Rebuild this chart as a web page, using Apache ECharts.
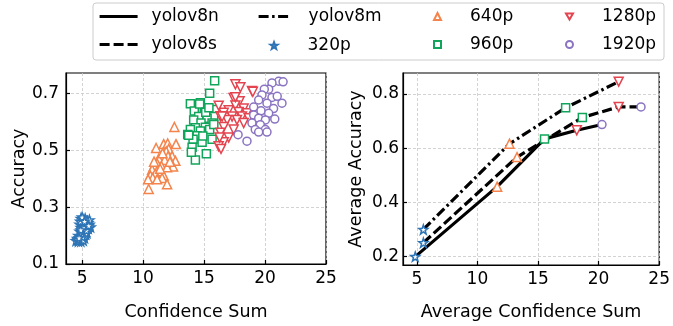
<!DOCTYPE html>
<html>
<head>
<meta charset="utf-8">
<script src="https://cdn.jsdelivr.net/npm/echarts@6/dist/echarts.min.js"></script>
<style>
  html, body { margin: 0; padding: 0; background: #fff; }
  #chart { width: 673px; height: 326px; }
</style>
</head>
<body>
<div id="chart"></div>
<script>
// left panel: per-image confidence sum vs accuracy
const pts320 = [
  [4.9,0.26],[5.1,0.255],[5.3,0.25],[5.5,0.245],[5.6,0.24],[5.0,0.25],[4.8,0.24],[5.2,0.24],
  [5.4,0.235],[5.7,0.23],[5.0,0.235],[4.9,0.228],[5.3,0.228],[5.5,0.225],[5.1,0.22],[4.8,0.215],
  [5.2,0.215],[5.4,0.21],[5.0,0.205],[4.7,0.2],[4.9,0.198],[5.1,0.2],[5.3,0.205],[4.6,0.19],
  [4.8,0.188],[5.0,0.19],[5.2,0.192],[4.5,0.182],[4.7,0.18],[4.9,0.18],[5.1,0.183],[5.05,0.245],
  [5.25,0.26],[4.95,0.212],[5.15,0.23],[5.45,0.25],[5.35,0.218],[4.85,0.25],[5.6,0.255],[4.65,0.185],
  [5.0,0.265],[5.2,0.25],[4.9,0.22],[5.05,0.195],[4.75,0.192],[5.55,0.235]
];
const pts640 = [
  [12.57,0.582],[11.07,0.508],[11.69,0.522],[12.02,0.524],[12.7,0.522],[12.1,0.505],[11.9,0.496],
  [12.38,0.479],[12.05,0.479],[11.28,0.471],[12.65,0.463],[11.77,0.466],[11.15,0.454],[11.5,0.445],
  [12.46,0.443],[10.87,0.443],[11.97,0.44],[10.74,0.432],[11.28,0.426],[11.0,0.418],[11.69,0.411],
  [10.6,0.411],[10.79,0.403],[11.56,0.403],[10.41,0.398],[11.15,0.398],[11.97,0.381],[10.46,0.364],
  [11.6,0.49],[12.2,0.46],[10.9,0.46],[11.4,0.435]
];
const pts960 = [
  [15.87,0.745],[15.46,0.701],[13.88,0.664],[14.7,0.667],[15.98,0.644],[14.2,0.638],[15.02,0.634],
  [14.56,0.619],[15.79,0.619],[14.15,0.607],[15.25,0.613],[14.75,0.596],[15.66,0.596],[14.29,0.579],
  [15.11,0.581],[13.88,0.573],[14.7,0.568],[15.46,0.573],[13.66,0.556],[14.43,0.551],[15.66,0.539],
  [14.1,0.539],[14.84,0.528],[14.02,0.511],[15.19,0.488],[14.29,0.466],[14.64,0.663],[15.14,0.634],
  [15.8,0.591],[13.96,0.493],[13.74,0.553],[15.4,0.65],[14.9,0.55]
];
const pts1280 = [
  [17.57,0.732],[17.98,0.722],[18.93,0.709],[17.43,0.684],[17.92,0.673],[17.57,0.658],[18.25,0.647],
  [17.02,0.641],[16.61,0.632],[17.84,0.635],[18.52,0.63],[16.34,0.62],[17.3,0.619],[18.11,0.619],
  [16.89,0.607],[17.7,0.607],[18.66,0.613],[18.25,0.596],[16.61,0.582],[17.43,0.573],[16.34,0.562],
  [17.02,0.545],[16.61,0.528],[16.2,0.514],[16.48,0.619],[16.28,0.545],[16.39,0.505],[16.2,0.657],
  [17.57,0.687],[19.0,0.706]
];
const pts1920 = [
  [21.12,0.743],[21.48,0.741],[20.57,0.737],[20.3,0.715],[19.94,0.715],[21.39,0.666],[19.75,0.695],
  [20.57,0.686],[19.48,0.677],[20.16,0.666],[20.7,0.647],[19.07,0.652],[19.67,0.639],[20.3,0.63],
  [19.07,0.624],[19.48,0.613],[20.03,0.607],[18.93,0.596],[19.61,0.59],[20.03,0.573],[19.2,0.573],
  [19.48,0.564],[20.16,0.564],[18.52,0.532],[17.79,0.555],[21.0,0.69],[20.8,0.61]
];

// right panel: averages per model
const modelNames = ['yolov8n', 'yolov8s', 'yolov8m'];
const v8nX = [4.87, 11.63, 15.54, 18.2, 20.28];
const v8nY = [0.2, 0.458, 0.634, 0.666, 0.687];
const v8sX = [5.54, 13.27, 18.66, 21.66, 23.5];
const v8sY = [0.251, 0.567, 0.713, 0.752, 0.752];
const v8mX = [5.54, 12.65, 17.28, 21.66];
const v8mY = [0.3, 0.616, 0.749, 0.845];

const resNames = ['320p', '640p', '960p', '1280p', '1920p'];
const xTicks = [5, 10, 15, 20, 25];
const yTicksLeft = [0.1, 0.3, 0.5, 0.7];
const yTicksRight = [0.2, 0.4, 0.6, 0.8];

const resColors = ['#2e75b6', '#f4844c', '#10a55a', '#e3444f', '#8a74c2'];
const star = 'path://M0,-10L2.35,-3.24L9.51,-3.09L3.8,1.24L5.88,8.09L0,4L-5.88,8.09L-3.8,1.24L-9.51,-3.09L-2.35,-3.24Z';
const downTri = 'path://M-5,-4.3L5,-4.3L0,4.3Z';
const resSymbols = [star, 'triangle', 'rect', downTri, 'circle'];
const resSizes = [9, 9, 8, 9, 8];

const chart = echarts.init(document.getElementById('chart'), null, { renderer: 'canvas' });
const font = 'DejaVu Sans';

function pairs(xs, ys) {
  return xs.map((x, i) => [x, ys[i]]);
}

const lineData = [pairs(v8nX, v8nY), pairs(v8sX, v8sY), pairs(v8mX, v8mY)];
const lineTypes = ['solid', [10, 4], [10, 3.5, 2.5, 3.5]];

const leftPts = [pts320, pts640, pts960, pts1280, pts1920];
const rightPts = resNames.map((_, r) => lineData.filter((d) => d[r]).map((d) => d[r]));

const series = [];
modelNames.forEach((name, i) => {
  series.push({
    name: name,
    type: 'line',
    xAxisIndex: 1,
    yAxisIndex: 1,
    data: lineData[i],
    symbol: 'none',
    z: 2,
    lineStyle: { color: '#000', width: 3.2, type: lineTypes[i], cap: 'butt' },
    itemStyle: { color: '#000', opacity: 0 },
  });
});
resNames.forEach((name, r) => {
  const common = {
    name: name,
    type: 'scatter',
    symbol: resSymbols[r],
    symbolSize: resSizes[r],
    itemStyle: { color: '#fff', borderColor: resColors[r], borderWidth: 1.5, opacity: 1 },
    emphasis: { disabled: true },
    z: 3,
  };
  series.push(Object.assign({}, common, { xAxisIndex: 0, yAxisIndex: 0, data: leftPts[r] }));
  series.push(Object.assign({}, common, { xAxisIndex: 1, yAxisIndex: 1, data: rightPts[r], z: 4 }));
});

const splitLine = { show: true, lineStyle: { color: '#c8c8c8', type: [3, 2], width: 0.8 } };
const axisLine = { show: true, onZero: false, lineStyle: { color: '#000', width: 1.2 } };
const tick = (vals) => ({ show: true, inside: true, length: 4, lineStyle: { color: '#000', width: 1.2 }, customValues: vals });
const label = (vals, fmt, margin) => ({
  color: '#000', fontFamily: font, fontSize: 17, margin: margin, customValues: vals, formatter: fmt,
});
const nameStyle = { color: '#000', fontFamily: font, fontSize: 17.5 };

// one small legend block per column cell, so the 4x2 grid lines up like the original
function legend(names, left, top, iconW, iconH, pad) {
  return {
    orient: 'vertical',
    left: left,
    top: top,
    itemWidth: iconW,
    itemHeight: iconH,
    itemGap: 11,
    padding: 0,
    data: names.map((n) => {
      const i = modelNames.indexOf(n);
      if (i < 0) return { name: n };
      return { name: n, itemStyle: { opacity: 0 }, lineStyle: { width: 3.2, color: '#000', type: lineTypes[i] } };
    }),
    textStyle: { color: '#000', fontFamily: font, fontSize: 17, padding: [0, 0, 0, pad] },
    selectedMode: false,
  };
}

const option = {
  animation: false,
  backgroundColor: '#fff',
  graphic: [{
    type: 'rect',
    shape: { x: 93, y: 3, width: 571, height: 57, r: 3 },
    style: { fill: '#fff', stroke: '#cccccc', lineWidth: 1 },
    z: -1,
  }],
  legend: [
    legend(['yolov8n', 'yolov8s'], 98, 8, 38, 14, 9),
    legend(['yolov8m'], 257, 8, 33, 14, 12),
    legend(['320p'], 269.5, 37, 7, 7, 25),
    legend(['640p', '960p'], 433, 8, 7, 7, 24),
    legend(['1280p', '1920p'], 565, 8, 7, 7, 24),
  ],
  grid: [
    { left: 66, top: 73, width: 260, height: 198, show: true, borderColor: '#000', borderWidth: 1.2, backgroundColor: 'transparent' },
    { left: 403, top: 73, width: 261, height: 198, show: true, borderColor: '#000', borderWidth: 1.2, backgroundColor: 'transparent' },
  ],
  xAxis: [
    {
      type: 'value', gridIndex: 0, min: 3.68, max: 25,
      name: 'Confidence Sum', nameLocation: 'middle', nameGap: 39, nameTextStyle: nameStyle,
      axisLine, axisTick: tick(xTicks), axisLabel: label(xTicks, (v) => String(v), 6),
      splitLine,
    },
    {
      type: 'value', gridIndex: 1, min: 3.86, max: 25,
      name: 'Average Confidence Sum', nameLocation: 'middle', nameGap: 38, nameTextStyle: nameStyle,
      axisLine, axisTick: tick(xTicks), axisLabel: label(xTicks, (v) => String(v), 6),
      splitLine,
    },
  ],
  yAxis: [
    {
      type: 'value', gridIndex: 0, min: 0.1, max: 0.772,
      name: 'Accuracy', nameLocation: 'middle', nameGap: 36, nameTextStyle: nameStyle,
      axisLine, axisTick: tick(yTicksLeft), axisLabel: label(yTicksLeft, (v) => v.toFixed(1), 7),
      splitLine,
    },
    {
      type: 'value', gridIndex: 1, min: 0.169, max: 0.877,
      name: 'Average Accuracy', nameLocation: 'middle', nameGap: 38, nameTextStyle: nameStyle,
      axisLine, axisTick: tick(yTicksRight), axisLabel: label(yTicksRight, (v) => v.toFixed(1), 4),
      splitLine,
    },
  ],
  series,
};

chart.setOption(option);
</script>
</body>
</html>
